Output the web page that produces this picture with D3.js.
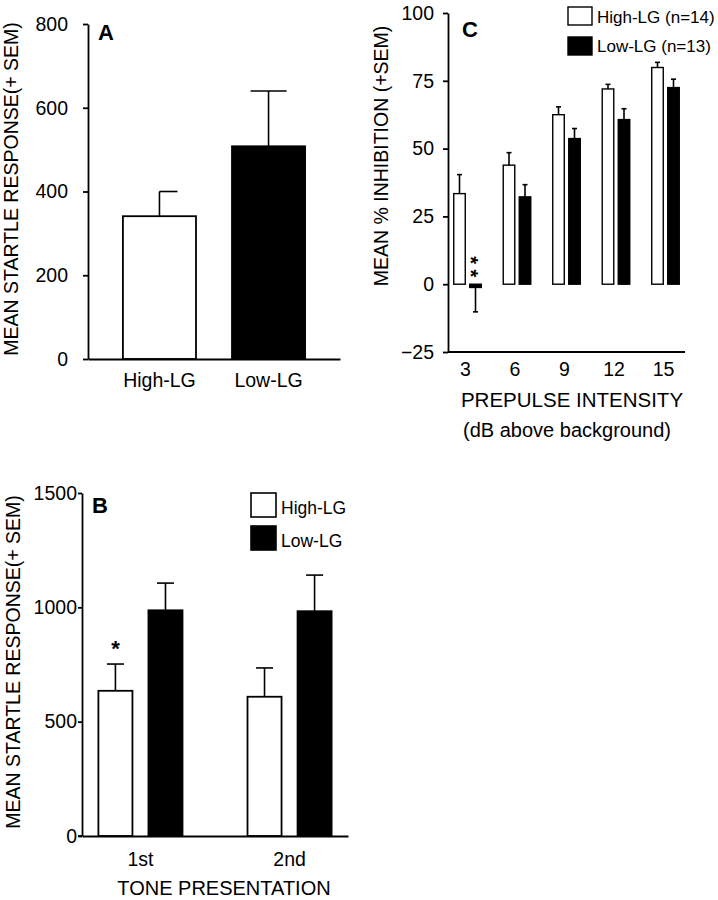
<!DOCTYPE html>
<html>
<head>
<meta charset="utf-8">
<script src="https://cdn.jsdelivr.net/npm/d3@7"></script>
<style>
  body{margin:0;background:#fff}
  svg{display:block}
  text{font-family:Arial,"Liberation Sans",sans-serif;fill:#000}
</style>
</head>
<body>
<div id="chartHolder"></div>
<script>
// ---- panel A : baseline startle
const groupsA = ["High-LG", "Low-LG"];
const meanA = [341, 508];
const semA = [59, 132];
const ticksA = [0, 200, 400, 600, 800];

// ---- panel B : startle by tone presentation
const toneB = ["1st", "2nd"];
const highB = [635, 609];
const highSemB = [117, 126];
const lowB = [987, 983];
const lowSemB = [119, 158];
const highStarB = ["*", ""];
const ticksB = [0, 500, 1000, 1500];

// ---- panel C : prepulse inhibition
const intensC = ["3", "6", "9", "12", "15"];
const highC = [33.4, 43.9, 62.5, 72.0, 79.9];
const highSemC = [7.0, 4.6, 2.9, 1.7, 1.9];
const lowC = [-1.2, 32.2, 53.7, 60.7, 72.5];
const lowSemC = [9.0, 4.5, 3.7, 4.0, 3.1];
const lowStarC = ["**", "", "", "", ""];
const ticksC = [-25, 0, 25, 50, 75, 100];

const seriesNames = ["High-LG", "Low-LG"];
const legendC = ["High-LG (n=14)", "Low-LG (n=13)"];
const fills = ["#fff", "#000"];

const svg = d3.select("#chartHolder")
  .append("svg")
  .attr("width", 718)
  .attr("height", 900);

function styleAxis(g, size){
  g.selectAll("path,line").attr("stroke", "#000").attr("stroke-width", 1.8);
  g.selectAll("text").style("font-size", size + "px").attr("fill", "#000")
    .attr("font-family", "Arial, 'Liberation Sans', sans-serif");
}

// draws bar + error whisker, whisker goes the way the mean goes
function errBar(g, x, w, y, v, s, fill, capL, capR, sw){
  g.append("rect")
    .attr("x", x).attr("width", w)
    .attr("y", Math.min(y(v), y(0)))
    .attr("height", Math.abs(y(v) - y(0)))
    .attr("fill", fill).attr("stroke", "#000").attr("stroke-width", sw);
  const dir = v < 0 ? -1 : 1;
  const cx = x + w / 2;
  const yEnd = y(v + dir * s);
  g.append("line").attr("x1", cx).attr("x2", cx)
    .attr("y1", y(v)).attr("y2", yEnd)
    .attr("stroke", "#000").attr("stroke-width", 1.6);
  g.append("line").attr("x1", cx - capL).attr("x2", cx + capR)
    .attr("y1", yEnd).attr("y2", yEnd)
    .attr("stroke", "#000").attr("stroke-width", 1.6);
  return yEnd;
}

const fmt = d3.format("d");

// ================= A
const yA = d3.scaleLinear().domain([0, 800]).range([359, 24]);
const xA = d3.scaleBand().domain(groupsA).range([88, 340])
  .paddingInner(0.33).paddingOuter(0.32);

const gA = svg.append("g");
meanA.forEach((m, i) => {
  errBar(gA, xA(groupsA[i]), xA.bandwidth(), yA, m, semA[i], fills[i],
    i === 0 ? 0 : 18, 18, 1.8);
});
gA.append("g").attr("transform", "translate(88,0)")
  .call(d3.axisLeft(yA).tickValues(ticksA).tickFormat(fmt).tickSize(5).tickPadding(15).tickSizeOuter(0))
  .call(g => styleAxis(g, 19.5));
gA.append("g").attr("transform", "translate(0,359)")
  .call(d3.axisBottom(xA).tickSize(0).tickPadding(14).tickSizeOuter(0))
  .call(g => styleAxis(g, 19.5));
gA.append("text").attr("x", 98).attr("y", 40)
  .style("font-size", "22px").style("font-weight", "bold").text("A");
gA.append("text").attr("transform", "translate(18,189) rotate(-90)")
  .attr("text-anchor", "middle").style("font-size", "19.5px")
  .text("MEAN STARTLE RESPONSE(+ SEM)");

// ================= B
const yB = d3.scaleLinear().domain([0, 1500]).range([836, 493]);
const xB = d3.scaleBand().domain(toneB).range([82, 348])
  .paddingInner(0.436).paddingOuter(0.11);
const xB1 = d3.scaleBand().domain(seriesNames).range([0, xB.bandwidth()])
  .paddingInner(0.32);

const gB = svg.append("g");
toneB.forEach((t, i) => {
  const top = errBar(gB, xB(t) + xB1("High-LG"), xB1.bandwidth(), yB,
    highB[i], highSemB[i], fills[0], 8.5, 8.5, 1.8);
  errBar(gB, xB(t) + xB1("Low-LG"), xB1.bandwidth(), yB,
    lowB[i], lowSemB[i], fills[1], 8.5, 8.5, 1.8);
  if (highStarB[i]) {
    gB.append("text").attr("x", xB(t) + xB1("High-LG") + xB1.bandwidth() / 2)
      .attr("y", top - 8).attr("text-anchor", "middle")
      .style("font-size", "22px").style("font-weight", "bold").text(highStarB[i]);
  }
});
gB.append("g").attr("transform", "translate(82,0)")
  .call(d3.axisLeft(yB).tickValues(ticksB).tickFormat(fmt).tickSize(4).tickPadding(1).tickSizeOuter(0))
  .call(g => styleAxis(g, 19.5));
gB.append("g").attr("transform", "translate(0,836)")
  .call(d3.axisBottom(xB).tickSize(0).tickPadding(16).tickSizeOuter(0))
  .call(g => styleAxis(g, 19.5));
gB.append("line").attr("x1", 78).attr("x2", 82).attr("y1", 836).attr("y2", 836)
  .attr("stroke", "#000").attr("stroke-width", 1.8);
gB.append("text").attr("x", 224).attr("y", 895).attr("text-anchor", "middle")
  .style("font-size", "20px").text("TONE PRESENTATION");
gB.append("text").attr("x", 92).attr("y", 513)
  .style("font-size", "22px").style("font-weight", "bold").text("B");
gB.append("text").attr("transform", "translate(20,662) rotate(-90)")
  .attr("text-anchor", "middle").style("font-size", "19.5px")
  .text("MEAN STARTLE RESPONSE(+ SEM)");
seriesNames.forEach((s, i) => {
  gB.append("rect").attr("x", 251).attr("y", 493 + i * 33)
    .attr("width", 25).attr("height", 24)
    .attr("fill", fills[i]).attr("stroke", "#000").attr("stroke-width", 1.6);
  gB.append("text").attr("x", 281).attr("y", 514 + i * 33)
    .style("font-size", "17.5px").text(s);
});

// ================= C
const yC = d3.scaleLinear().domain([-25, 100]).range([352, 13]);
const xC = d3.scaleBand().domain(intensC).range([448, 685])
  .paddingInner(0.444).paddingOuter(0.116);
const xC1 = d3.scaleBand().domain(seriesNames).range([0, xC.bandwidth()])
  .paddingInner(0.28);

const gC = svg.append("g");
intensC.forEach((t, i) => {
  errBar(gC, xC(t) + xC1("High-LG"), xC1.bandwidth(), yC,
    highC[i], highSemC[i], fills[0], 2.5, 2.5, 1.4);
  errBar(gC, xC(t) + xC1("Low-LG"), xC1.bandwidth(), yC,
    lowC[i], lowSemC[i], fills[1], 2.5, 2.5, 1.4);
  if (lowStarC[i]) {
    // stacked stars: one text turned on its side so they sit one above the other
    const cx = xC(t) + xC1("Low-LG") + xC1.bandwidth() / 2;
    gC.append("text")
      .attr("transform", `translate(${cx - 11.5},${yC(0) - 28}) rotate(90)`)
      .style("font-size", "20px").style("font-weight", "bold")
      .style("letter-spacing", "5.5px")
      .text(lowStarC[i]);
  }
});
gC.append("g").attr("transform", "translate(448,0)")
  .call(d3.axisLeft(yC).tickValues(ticksC).tickFormat(fmt).tickSize(5).tickPadding(9).tickSizeOuter(0))
  .call(g => styleAxis(g, 19.5));
gC.append("g").attr("transform", "translate(-2,352)")
  .call(d3.axisBottom(xC).tickSize(0).tickPadding(10).tickSizeOuter(0))
  .call(g => styleAxis(g, 19.5))
  .call(g => g.select(".domain").attr("d", "M450,0H687"));
gC.append("text").attr("x", 572).attr("y", 407).attr("text-anchor", "middle")
  .style("font-size", "20.5px").text("PREPULSE INTENSITY");
gC.append("text").attr("x", 567).attr("y", 437).attr("text-anchor", "middle")
  .style("font-size", "20px").text("(dB above background)");
gC.append("text").attr("x", 462).attr("y", 37)
  .style("font-size", "22px").style("font-weight", "bold").text("C");
gC.append("text").attr("transform", "translate(388,156) rotate(-90)")
  .attr("text-anchor", "middle").style("font-size", "19.5px")
  .text("MEAN % INHIBITION (+SEM)");
legendC.forEach((s, i) => {
  gC.append("rect").attr("x", 568).attr("y", 7 + i * 30)
    .attr("width", 24).attr("height", 18)
    .attr("fill", fills[i]).attr("stroke", "#000").attr("stroke-width", 1.4);
  gC.append("text").attr("x", 597).attr("y", 23 + i * 29)
    .style("font-size", "17px").text(s);
});
</script>
</body>
</html>
